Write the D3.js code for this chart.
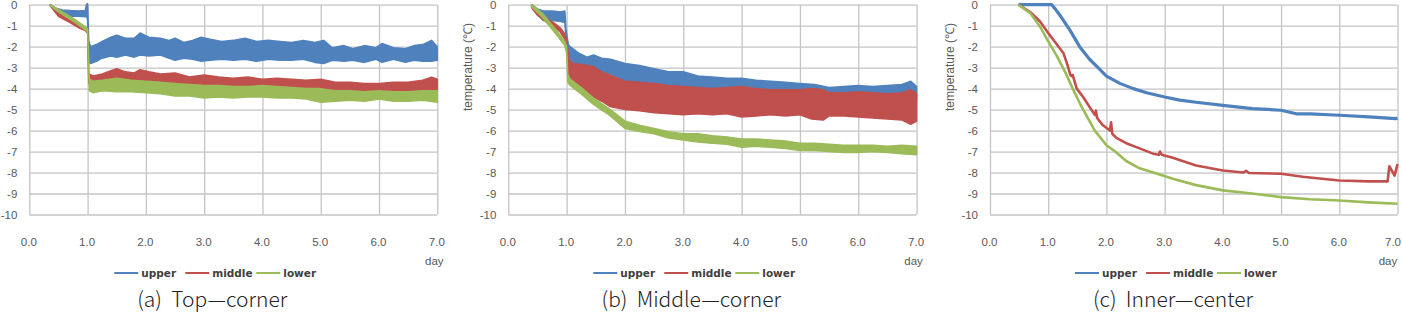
<!DOCTYPE html>
<html>
<head>
<meta charset="utf-8">
<script src="https://cdn.jsdelivr.net/npm/d3@7"></script>
<style>
body { margin: 0; background: #fff; }
svg { display: block; }
</style>
</head>
<body>
<svg id="chart" width="1402" height="314"></svg>
<script>
// axis ticks, legend names, captions
const dayTicks = [0, 1, 2, 3, 4, 5, 6, 7];
const tempTicks = [0, -1, -2, -3, -4, -5, -6, -7, -8, -9, -10];
const seriesNames = ['upper', 'middle', 'lower'];
const seriesColors = ['#4f81bd', '#c0504d', '#9bbb59'];
const captions = ['(a)  Top\u2014corner', '(b)  Middle\u2014corner', '(c)  Inner\u2014center'];

// (a) top-corner, noisy records read as a band: [day, band top, band bottom]
const topUpper = [
  [0.36, 0, -0.05], [0.45, -0.15, -0.28], [0.56, -0.25, -0.5], [0.7, -0.28, -0.55],
  [0.85, -0.3, -0.55], [0.96, -0.28, -0.58], [0.98, 0, -0.55], [1.0, 0.05, -0.7],
  [1.02, -1.7, -2.75], [1.05, -2.0, -2.8], [1.15, -1.9, -2.7], [1.25, -1.75, -2.55],
  [1.4, -1.55, -2.45], [1.5, -1.45, -2.5], [1.65, -1.6, -2.4], [1.8, -1.6, -2.5],
  [1.9, -1.35, -2.4], [2.05, -1.55, -2.45], [2.25, -1.6, -2.4], [2.4, -1.7, -2.55],
  [2.5, -1.6, -2.65], [2.65, -1.8, -2.55], [2.8, -1.7, -2.6], [2.95, -1.55, -2.7],
  [3.1, -1.65, -2.65], [3.3, -1.75, -2.6], [3.5, -1.7, -2.65], [3.7, -1.6, -2.6],
  [3.9, -1.75, -2.7], [4.1, -1.7, -2.6], [4.3, -1.75, -2.65], [4.5, -1.8, -2.65],
  [4.7, -1.7, -2.6], [4.9, -1.8, -2.75], [5.05, -1.7, -2.8], [5.2, -2.05, -2.65],
  [5.4, -1.95, -2.7], [5.55, -2.1, -2.65], [5.75, -1.95, -2.75], [5.95, -2.05, -2.6],
  [6.05, -1.85, -2.75], [6.25, -2.05, -2.6], [6.45, -2.1, -2.75], [6.6, -1.95, -2.65],
  [6.75, -1.9, -2.7], [6.9, -1.7, -2.7], [7.0, -2.0, -2.65]
];
const topMiddle = [
  [0.36, 0, -0.05], [0.5, -0.42, -0.55], [0.7, -0.72, -0.85], [0.85, -0.98, -1.1],
  [0.95, -1.1, -1.22], [1.0, -1.15, -1.35], [1.02, -3.3, -3.75], [1.1, -3.4, -3.8],
  [1.25, -3.3, -3.75], [1.4, -3.15, -3.7], [1.5, -3.05, -3.75], [1.65, -3.2, -3.7],
  [1.8, -3.25, -3.8], [1.9, -3.1, -3.75], [2.05, -3.2, -3.8], [2.25, -3.3, -3.85],
  [2.5, -3.25, -3.9], [2.75, -3.45, -3.9], [3.0, -3.35, -3.95], [3.25, -3.45, -3.95],
  [3.5, -3.5, -4.0], [3.75, -3.45, -4.0], [4.0, -3.55, -4.0], [4.25, -3.5, -4.05],
  [4.5, -3.55, -4.05], [4.75, -3.6, -4.1], [5.0, -3.55, -4.1], [5.25, -3.7, -4.15],
  [5.5, -3.7, -4.15], [5.75, -3.75, -4.2], [6.0, -3.75, -4.15], [6.25, -3.7, -4.15],
  [6.5, -3.7, -4.1], [6.75, -3.6, -4.1], [6.9, -3.45, -4.05], [7.0, -3.55, -4.05]
];
const topLower = [
  [0.36, 0, -0.05], [0.53, -0.28, -0.4], [0.76, -0.66, -0.8], [0.96, -1.06, -1.2],
  [1.0, -1.15, -1.3], [1.03, -3.55, -4.1], [1.1, -3.65, -4.2], [1.25, -3.6, -4.1],
  [1.5, -3.5, -4.15], [1.75, -3.6, -4.15], [2.0, -3.65, -4.2], [2.25, -3.7, -4.25],
  [2.5, -3.75, -4.35], [2.75, -3.8, -4.35], [3.0, -3.85, -4.45], [3.25, -3.85, -4.4],
  [3.5, -3.9, -4.45], [3.75, -3.9, -4.4], [4.0, -3.85, -4.4], [4.25, -3.9, -4.45],
  [4.5, -3.95, -4.45], [4.75, -4.0, -4.5], [5.0, -4.0, -4.65], [5.25, -4.1, -4.6],
  [5.5, -4.1, -4.55], [5.75, -4.15, -4.6], [6.0, -4.1, -4.5], [6.25, -4.15, -4.6],
  [6.5, -4.15, -4.6], [6.75, -4.1, -4.55], [7.0, -4.1, -4.65]
];

// (b) middle-corner: [day, band top, band bottom]
const midUpper = [
  [0.4, 0, -0.1], [0.5, -0.2, -0.45], [0.6, -0.3, -0.75], [0.75, -0.3, -0.75],
  [0.9, -0.35, -0.8], [0.97, -0.3, -0.85], [0.99, -1.2, -1.7], [1.03, -1.9, -2.4],
  [1.06, -2.0, -2.8], [1.2, -2.3, -2.9], [1.35, -2.5, -3.0], [1.46, -2.4, -3.2],
  [1.6, -2.55, -3.2], [1.75, -2.6, -3.3], [2.0, -2.8, -3.6], [2.25, -2.9, -3.7],
  [2.5, -3.05, -3.85], [2.75, -3.2, -3.9], [3.0, -3.2, -4.0], [3.25, -3.4, -4.05],
  [3.5, -3.45, -4.1], [3.75, -3.5, -4.15], [4.0, -3.5, -4.2], [4.25, -3.6, -4.3],
  [4.5, -3.65, -4.35], [4.75, -3.7, -4.4], [5.0, -3.75, -4.45], [5.25, -3.8, -4.5],
  [5.5, -3.95, -4.5], [5.75, -3.9, -4.55], [6.0, -3.85, -4.5], [6.25, -3.9, -4.55],
  [6.5, -3.85, -4.5], [6.75, -3.8, -4.45], [6.9, -3.65, -4.35], [7.0, -3.9, -4.5]
];
const midMiddle = [
  [0.4, 0, -0.15], [0.5, -0.3, -0.5], [0.66, -0.65, -0.85], [0.8, -0.9, -1.1],
  [0.89, -1.1, -1.3], [0.97, -1.4, -1.65], [1.0, -1.7, -2.0], [1.04, -2.6, -3.6],
  [1.1, -2.8, -3.9], [1.25, -2.85, -4.0], [1.46, -2.95, -4.4], [1.6, -3.2, -4.6],
  [1.74, -3.35, -4.85], [2.0, -3.65, -5.0], [2.25, -3.7, -5.05], [2.5, -3.75, -5.15],
  [2.75, -3.85, -5.2], [3.0, -3.9, -5.25], [3.25, -3.95, -5.2], [3.5, -4.0, -5.25],
  [3.75, -3.95, -5.2], [4.0, -3.9, -5.35], [4.25, -4.0, -5.3], [4.5, -4.05, -5.25],
  [4.75, -4.05, -5.3], [5.0, -4.05, -5.25], [5.2, -4.0, -5.45], [5.4, -4.05, -5.5],
  [5.5, -4.2, -5.3], [5.75, -4.2, -5.3], [6.0, -4.15, -5.35], [6.25, -4.2, -5.4],
  [6.5, -4.25, -5.45], [6.75, -4.2, -5.5], [6.9, -4.05, -5.7], [7.0, -4.25, -5.55]
];
const midLower = [
  [0.4, 0, -0.1], [0.6, -0.45, -0.65], [0.83, -1.25, -1.45], [0.97, -1.75, -1.95],
  [1.0, -2.0, -2.3], [1.02, -3.3, -3.7], [1.06, -3.55, -3.85], [1.25, -3.95, -4.25],
  [1.46, -4.45, -4.75], [1.75, -5.0, -5.3], [2.0, -5.55, -5.9], [2.25, -5.75, -6.05],
  [2.5, -5.9, -6.15], [2.75, -6.05, -6.35], [3.0, -6.15, -6.45], [3.25, -6.15, -6.55],
  [3.5, -6.25, -6.6], [3.75, -6.3, -6.65], [4.0, -6.4, -6.8], [4.25, -6.4, -6.75],
  [4.5, -6.45, -6.8], [4.75, -6.5, -6.85], [5.0, -6.6, -6.95], [5.25, -6.6, -6.95],
  [5.5, -6.65, -7.0], [5.75, -6.7, -7.05], [6.0, -6.7, -7.05], [6.25, -6.7, -7.0],
  [6.5, -6.75, -7.05], [6.75, -6.7, -7.1], [7.0, -6.75, -7.15]
];

// (c) inner-center, smooth records: [day, temperature]
const innerUpper = [
  [0.49, 0], [1.06, 0], [1.12, -0.2], [1.2, -0.5], [1.37, -1.2], [1.54, -2.0],
  [1.71, -2.6], [1.89, -3.1], [2.0, -3.4], [2.23, -3.75], [2.46, -4.0], [2.69, -4.2],
  [3.0, -4.4], [3.26, -4.55], [3.54, -4.65], [4.0, -4.8], [4.51, -4.95], [5.0, -5.03],
  [5.26, -5.2], [5.5, -5.2], [6.0, -5.27], [6.51, -5.35], [6.97, -5.43], [7.0, -5.4]
];
const innerMiddle = [
  [0.49, 0], [0.69, -0.35], [0.86, -0.8], [1.0, -1.35], [1.11, -1.75], [1.26, -2.3],
  [1.34, -2.95], [1.38, -3.35], [1.4, -3.4], [1.42, -3.35], [1.49, -4.0], [1.6, -4.4],
  [1.74, -5.0], [1.8, -5.25], [1.82, -5.05], [1.84, -5.4], [1.94, -5.75], [2.06, -6.0],
  [2.08, -5.6], [2.1, -6.15], [2.17, -6.35], [2.34, -6.6], [2.57, -6.85], [2.8, -7.1],
  [2.9, -7.15], [2.92, -7.0], [2.95, -7.15], [3.14, -7.3], [3.54, -7.66], [4.0, -7.9],
  [4.35, -8.0], [4.4, -7.92], [4.45, -8.02], [5.0, -8.06], [5.37, -8.2], [6.0, -8.38],
  [6.5, -8.42], [6.83, -8.42], [6.86, -7.7], [6.91, -7.95], [6.95, -8.15], [7.0, -7.6]
];
const innerLower = [
  [0.49, 0], [0.69, -0.4], [0.86, -1.05], [1.0, -1.75], [1.14, -2.4], [1.29, -3.2],
  [1.43, -4.05], [1.57, -4.85], [1.71, -5.55], [1.8, -6.0], [2.0, -6.7], [2.15, -7.0],
  [2.34, -7.45], [2.57, -7.8], [2.86, -8.05], [3.14, -8.3], [3.54, -8.6], [4.0, -8.85],
  [4.5, -9.0], [5.0, -9.17], [5.5, -9.27], [6.0, -9.33], [6.5, -9.42], [7.0, -9.49]
];

const panels = [
  {left: 29.3, width: 408, title: false, kind: 'band', caption: captions[0], series: [topUpper, topMiddle, topLower]},
  {left: 508.3, width: 408.3, title: true, kind: 'band', caption: captions[1], series: [midUpper, midMiddle, midLower]},
  {left: 990, width: 407.5, title: true, kind: 'line', caption: captions[2], series: [innerUpper, innerMiddle, innerLower]}
];
const plotTop = 4.7, plotBottom = 214.5;
const tickFont = '"Liberation Sans", Arial, sans-serif';
const pageWidth = 1402;

const svg = d3.select('#chart');

panels.forEach(function(p) {
    const x = d3.scaleLinear().domain([0, 7]).range([p.left, p.left + p.width]);
    const y = d3.scaleLinear().domain([0, -10]).range([plotTop, plotBottom]);
    const g = svg.append('g');

    // grid
    const grid = g.append('g');
    grid.append('g')
        .attr('transform', `translate(0,${plotBottom})`)
        .call(d3.axisBottom(x).tickValues(dayTicks).tickSize(-(plotBottom - plotTop)).tickFormat(''));
    grid.append('g')
        .attr('transform', `translate(${p.left},0)`)
        .call(d3.axisLeft(y).tickValues(tempTicks).tickSize(-p.width).tickFormat(''));
    grid.selectAll('.domain').remove();
    grid.selectAll('.tick line').attr('stroke', '#c4c4c4').attr('stroke-width', 1.3);

    // tick labels
    const yl = g.append('g')
        .attr('transform', `translate(${p.left},0)`)
        .call(d3.axisLeft(y).tickValues(tempTicks).tickSize(0).tickPadding(12).tickFormat(d => String(d)));
    const xl = g.append('g')
        .attr('transform', `translate(-1,238)`)
        .call(d3.axisBottom(x).tickValues(dayTicks).tickSize(0).tickPadding(0).tickFormat(d => d.toFixed(1)));
    [yl, xl].forEach(function(a) {
        a.select('.domain').remove();
        a.attr('font-family', tickFont).attr('font-size', 11.5);
        a.selectAll('text').attr('fill', '#595959');
    });
    // keep the last label inside the page
    xl.selectAll('.tick text').each(function() {
        const b = this.getBBox();
        const tx = +d3.select(this.parentNode).attr('transform').match(/translate\(([-\d.]+)/)[1];
        const over = tx - 1 + b.x + b.width - (pageWidth - 1);
        if (over > 0) d3.select(this).attr('x', -over);
    });

    g.append('text')
        .attr('x', Math.min(p.left + p.width - 3, pageWidth - 14))
        .attr('y', 265)
        .attr('text-anchor', 'middle')
        .style('font-family', tickFont)
        .style('font-size', '11.5px')
        .style('fill', '#595959')
        .text('day');

    if (p.title) {
        g.append('text')
            .attr('transform', `translate(${p.left - 40.5},67) rotate(-90)`)
            .attr('dy', '0.35em')
            .attr('text-anchor', 'middle')
            .style('font-family', tickFont)
            .style('font-size', '12px')
            .style('fill', '#595959')
            .text('temperature (\u2103)');
    }

    // series
    if (p.kind == 'band') {
        const area = d3.area()
            .x(d => x(d[0]))
            .y0(d => y(d[2]))
            .y1(d => y(d[1]));
        p.series.forEach(function(s, i) {
            g.append('path')
                .datum(s)
                .attr('d', area)
                .style('fill', seriesColors[i])
                .style('stroke', seriesColors[i])
                .style('stroke-width', 1.5)
                .style('stroke-linejoin', 'round');
        });
    }
    else {
        const line = d3.line()
            .x(d => x(d[0]))
            .y(d => y(d[1]));
        const widths = [3.2, 2.6, 2.6];
        p.series.forEach(function(s, i) {
            g.append('path')
                .datum(s)
                .attr('d', line)
                .style('fill', 'none')
                .style('stroke', seriesColors[i])
                .style('stroke-width', widths[i])
                .style('stroke-linejoin', 'round');
        });
    }

    // legend
    const lg = g.append('g').attr('transform', `translate(${p.left + 85},273)`);
    seriesNames.forEach(function(name, i) {
        lg.append('line')
            .attr('x1', i * 71).attr('x2', i * 71 + 24)
            .attr('y1', 0).attr('y2', 0)
            .style('stroke', seriesColors[i])
            .style('stroke-width', 2);
        lg.append('text')
            .attr('x', i * 71 + 27)
            .attr('y', 0)
            .attr('dy', '0.35em')
            .style('font-family', '"DejaVu Sans", sans-serif')
            .style('font-weight', 'bold')
            .style('font-size', '10.5px')
            .style('fill', '#404040')
            .text(name);
    });

    // caption
    g.append('text')
        .attr('x', p.left + 183)
        .attr('y', 307)
        .attr('text-anchor', 'middle')
        .attr('xml:space', 'preserve')
        .style('white-space', 'pre')
        .style('font-family', '"Noto Sans CJK KR", "Noto Sans", sans-serif')
        .style('font-weight', 300)
        .style('font-size', '21px')
        .style('fill', '#222')
        .text(p.caption);
});
</script>
</body>
</html>
